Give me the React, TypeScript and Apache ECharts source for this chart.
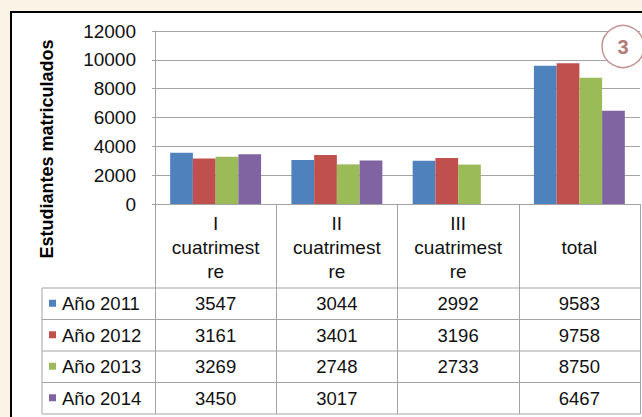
import React, { useEffect, useRef } from "react";
import * as echarts from "echarts";

const categories = ["I\ncuatrimest\nre", "II\ncuatrimest\nre", "III\ncuatrimest\nre", "total"];
const seriesNames = ["Año 2011", "Año 2012", "Año 2013", "Año 2014"];
const y2011 = [3547, 3044, 2992, 9583];
const y2012 = [3161, 3401, 3196, 9758];
const y2013 = [3269, 2748, 2733, 8750];
const y2014: (number | null)[] = [3450, 3017, null, 6467];
const colors = ["#4f81bd", "#c0504d", "#9bbb59", "#8064a2"];
const yTicks = [0, 2000, 4000, 6000, 8000, 10000, 12000];

const FONT = "'Liberation Sans', Arial, sans-serif";

export default function App() {
  const ref = useRef<HTMLDivElement>(null);
  useEffect(() => {
    if (!ref.current) return;
    const chart = echarts.init(ref.current, undefined, { renderer: "svg" });
    const data = [y2011, y2012, y2013, y2014];

    // layout
    const gLeft = 155, gTop = 31, gRight = 640, gBottom = 204;
    const tableLeft = 42, headerBottom = 288, tableBottom = 414;
    const colW = (gRight - gLeft) / categories.length;
    const rowH = (tableBottom - headerBottom) / seriesNames.length;
    const lineColor = "#a3a3a3";

    const graphics: any[] = [
      { type: "rect", z: -100, shape: { x: 11, y: 12, width: 700, height: 500 }, style: { fill: "#ffffff" }, silent: true },
      { type: "line", z: 100, shape: { x1: 10, y1: 12, x2: 642, y2: 12 }, style: { stroke: "#000", lineWidth: 2 } },
      { type: "line", z: 100, shape: { x1: 11, y1: 11, x2: 11, y2: 417 }, style: { stroke: "#000", lineWidth: 2 } },
      {
        type: "text", x: 47, y: 149, rotation: Math.PI / 2,
        style: { text: "Estudiantes matriculados", font: `bold 18px ${FONT}`, fill: "#000", align: "center", verticalAlign: "middle" },
      },
      { type: "line", shape: { x1: tableLeft, y1: headerBottom, x2: tableLeft, y2: tableBottom }, style: { stroke: lineColor, lineWidth: 1 } },
    ];
    for (let j = 0; j <= seriesNames.length; j++) {
      const y = headerBottom + j * rowH;
      graphics.push({ type: "line", shape: { x1: tableLeft, y1: y, x2: gRight, y2: y }, style: { stroke: lineColor, lineWidth: 1 } });
    }
    seriesNames.forEach((name, j) => {
      const cy = headerBottom + (j + 0.5) * rowH;
      graphics.push(
        { type: "rect", shape: { x: 49, y: cy - 4, width: 7, height: 7 }, style: { fill: colors[j] } },
        { type: "text", x: 62, y: cy, style: { text: name, font: `18.5px ${FONT}`, fill: "#111", align: "left", verticalAlign: "middle" } }
      );
    });
    data.forEach((row, j) => {
      row.forEach((v, i) => {
        if (v == null) return;
        graphics.push({
          type: "text", x: gLeft + (i + 0.5) * colW, y: headerBottom + (j + 0.5) * rowH,
          style: { text: String(v), font: `18.5px ${FONT}`, fill: "#111", align: "center", verticalAlign: "middle" },
        });
      });
    });
    graphics.push(
      { type: "circle", z: 50, shape: { cx: 623, cy: 46.5, r: 21 }, style: { fill: "#ffffff", stroke: "#c49393", lineWidth: 1.5 } },
      { type: "text", z: 51, x: 623, y: 47, style: { text: "3", font: `bold 20px ${FONT}`, fill: "#b37b7b", align: "center", verticalAlign: "middle" } }
    );

    chart.setOption({
      animation: false,
      backgroundColor: "#fcf3e7",
      color: colors,
      textStyle: { fontFamily: FONT },
      grid: { left: gLeft, top: gTop, width: gRight - gLeft, height: gBottom - gTop, containLabel: false },
      xAxis: {
        type: "category", data: categories,
        axisLine: { show: true, lineStyle: { color: lineColor } },
        axisTick: { show: true, length: tableBottom - gBottom, interval: 0, lineStyle: { color: lineColor } },
        axisLabel: { interval: 0, margin: 43, verticalAlign: "middle", lineHeight: 24, fontSize: 19, color: "#111", fontFamily: FONT },
      },
      yAxis: {
        type: "value", min: 0, max: 12000, interval: 2000,
        axisLine: { show: true, lineStyle: { color: lineColor } },
        axisTick: { show: true, length: 3, lineStyle: { color: lineColor } },
        splitLine: { show: true, lineStyle: { color: lineColor } },
        axisLabel: { margin: 19, fontSize: 19, color: "#111", fontFamily: FONT, formatter: (v: number) => (yTicks.includes(v) ? String(v) : "") },
      },
      series: seriesNames.map((name, k) => ({
        name, type: "bar", data: data[k], barGap: "0%", barCategoryGap: "25%",
      })),
      graphic: graphics,
    });
    return () => chart.dispose();
  }, []);
  return <div ref={ref} style={{ position: "fixed", left: 0, top: 0, width: 642, height: 417 }} />;
}
